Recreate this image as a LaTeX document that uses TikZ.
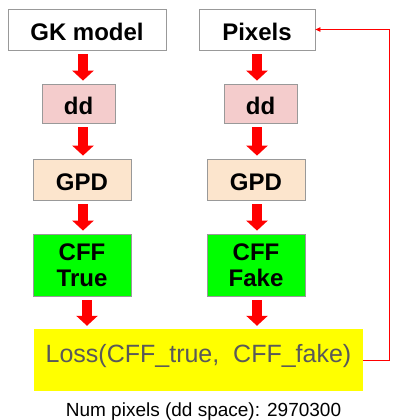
\documentclass[tikz,border=0pt]{standalone}
\usepackage{fontspec}
\setmainfont{Liberation Sans}
\usepackage{tikz}
\usetikzlibrary{arrows.meta,positioning}
\definecolor{boxgray}{HTML}{999999}
\definecolor{ddpink}{HTML}{F4CCCC}
\definecolor{gpdtan}{HTML}{FCE5CD}
\definecolor{cffgreen}{HTML}{00FF00}
\definecolor{lossyellow}{HTML}{FFFF00}
\definecolor{losstext}{HTML}{595959}
\definecolor{arrowred}{HTML}{FF0000}

\begin{document}
\begin{tikzpicture}[x=1pt,y=-1pt,
  box/.style={draw=boxgray,line width=0.8pt,inner sep=0pt,align=center,
    font=\fontsize{24}{26}\selectfont\bfseries},
  oneline/.style={box,text height=22pt,text depth=0pt},
  fat/.style={arrowred,line width=10pt,shorten <=4pt,shorten >=3pt,
    -{Triangle[length=10pt,width=21pt]}},
  feedback/.style={arrowred,line width=0.8pt,-{Triangle[length=5pt,width=4.5pt]}}]
  \useasboundingbox (0,0) rectangle (392,420);
  % top row
  \node[oneline,fill=white,minimum width=158pt,minimum height=41pt] (gk) at (87,29.5) {GK model};
  \node[oneline,fill=white,minimum width=116pt,minimum height=41pt] (pix) at (257,29.5) {Pixels};
  % dd
  \node[oneline,fill=ddpink,minimum width=73pt,minimum height=39pt] (ddL) at (78.5,103.5) {dd};
  \node[oneline,fill=ddpink,minimum width=73pt,minimum height=39pt] (ddR) at (260.5,103.5) {dd};
  % gpd
  \node[oneline,fill=gpdtan,minimum width=98pt,minimum height=41pt] (gpdL) at (82,179.5) {GPD};
  \node[oneline,fill=gpdtan,minimum width=98pt,minimum height=41pt] (gpdR) at (256,179.5) {GPD};
  % cff
  \node[box,fill=cffgreen,minimum width=98pt,minimum height=62pt] (cffL) at (82,265) {CFF\\True};
  \node[box,fill=cffgreen,minimum width=98pt,minimum height=62pt] (cffR) at (256,265) {CFF\\Fake};
  % loss
  \node[fill=lossyellow,minimum width=329pt,minimum height=62pt,inner sep=0pt,
    text=losstext,font=\fontsize{25}{30}\selectfont,text height=18pt,text depth=12.6pt]
    (loss) at (198.5,360) {Loss(CFF\_true,\ \ CFF\_fake)};
  \node[font=\fontsize{19}{22}\selectfont,anchor=base] (npix) at (203.5,416.5)
    {Num pixels (dd space): 2970300};
  % arrow columns
  \coordinate (colL) at (83,0);
  \coordinate (colR) at (257,0);
  \coordinate (colL2) at (87,0);
  \draw[fat] (gk.south -| colL) -- (ddL.north -| colL);
  \draw[fat] (ddL.south -| colL) -- (gpdL.north -| colL);
  \draw[fat] (gpdL.south -| colL) -- (cffL.north -| colL);
  \draw[fat] (cffL.south -| colL2) -- (loss.north -| colL2);
  \draw[fat] (pix.south -| colR) -- (ddR.north -| colR);
  \draw[fat] (ddR.south -| colR) -- (gpdR.north -| colR);
  \draw[fat] (gpdR.south -| colR) -- (cffR.north -| colR);
  \draw[fat] (cffR.south -| colR) -- (loss.north -| colR);
  % feedback loop
  \draw[feedback] (loss.east) -- ++(26,0) |- (pix.east);
\end{tikzpicture}
\end{document}
